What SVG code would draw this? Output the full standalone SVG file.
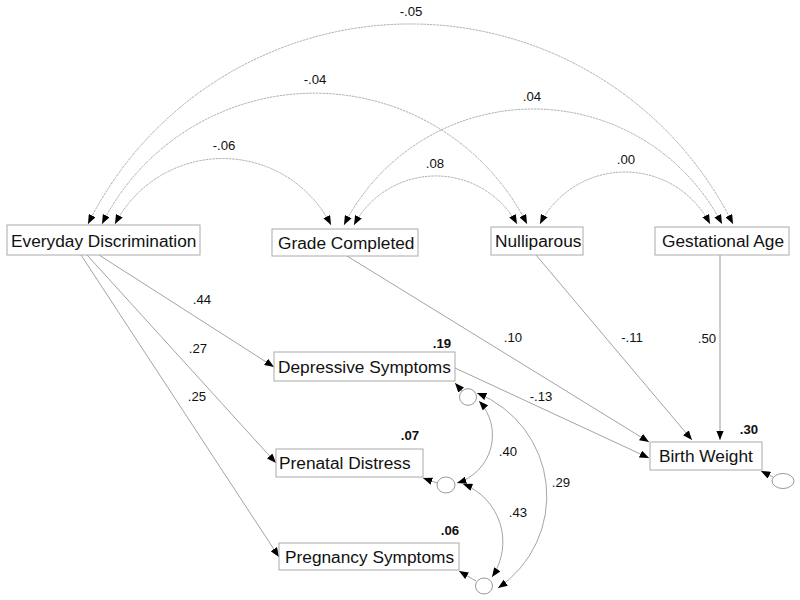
<svg xmlns="http://www.w3.org/2000/svg" width="800" height="600" viewBox="0 0 800 600">
<defs>
<marker id="ah" viewBox="0 0 10 8" markerWidth="9.5" markerHeight="7.5" refX="10" refY="4" orient="auto-start-reverse" markerUnits="userSpaceOnUse">
<path d="M0,0 L10,4 L0,8 z" fill="#000"/>
</marker>
<style>
.box{fill:#fff;stroke:#aaa;stroke-width:1}
.lbl{font-family:"Liberation Sans",Arial,sans-serif;font-size:17.3px;fill:#111}
.num{font-family:"Liberation Sans",Arial,sans-serif;font-size:13.2px;fill:#111;text-anchor:middle}
.r2{font-family:"Liberation Sans",Arial,sans-serif;font-size:13.2px;font-weight:bold;fill:#111;text-anchor:middle}
.path{fill:none;stroke:#999;stroke-width:0.9;marker-end:url(#ah)}
.cov{fill:none;stroke:#999;stroke-width:0.8;stroke-dasharray:2.5 0.8;marker-start:url(#ah);marker-end:url(#ah)}
.ecov{fill:none;stroke:#999;stroke-width:0.9;marker-start:url(#ah);marker-end:url(#ah)}
.err{fill:#fff;stroke:#999;stroke-width:1}
</style>
</defs>
<rect width="800" height="600" fill="#fff"/>
<g id="connectors">
<path class="cov" d="M88,224 A360,360 0 0 1 733,224"/>
<path class="cov" d="M102,224 A238,238 0 0 1 527,224"/>
<path class="cov" d="M115,224 A121.4,121.4 0 0 1 331,225"/>
<path class="cov" d="M344,225 A212.4,212.4 0 0 1 722,224"/>
<path class="cov" d="M354,225 A92.7,92.7 0 0 1 517,224"/>
<path class="cov" d="M540,224 A95.5,95.5 0 0 1 710,224"/>
<path class="path" d="M99,255 L274,367"/>
<path class="path" d="M87,255 L276,463"/>
<path class="path" d="M81,255 L279,557"/>
<path class="path" d="M347,256 L649,442"/>
<path class="path" d="M455,368 L649,458"/>
<path class="path" d="M536,255 L692,440"/>
<path class="path" d="M720,255 L720,440" style="stroke:#bbb;stroke-width:1.5"/>
<path class="path" d="M462,391 L455,383"/>
<path class="path" d="M437,483 L423,478"/>
<path class="path" d="M476,581 L459,571"/>
<path class="path" d="M773,477 L761,471"/>
<path class="ecov" d="M479,401 A50,50 0 0 1 457,483"/>
<path class="ecov" d="M463,484 A62,62 0 0 1 492,577"/>
<path class="ecov" d="M477,393 A111,111 0 0 1 498,588"/>
<text class="num" x="411" y="16">-.05</text>
<text class="num" x="315" y="84">-.04</text>
<text class="num" x="224" y="150">-.06</text>
<text class="num" x="532" y="101">.04</text>
<text class="num" x="435" y="168">.08</text>
<text class="num" x="626" y="164">.00</text>
<text class="num" x="202" y="304">.44</text>
<text class="num" x="198" y="353">.27</text>
<text class="num" x="197" y="401">.25</text>
<text class="num" x="513" y="342">.10</text>
<text class="num" x="632" y="342">-.11</text>
<text class="num" x="707" y="343">.50</text>
<text class="num" x="541" y="401">-.13</text>
<text class="num" x="508" y="456">.40</text>
<text class="num" x="518" y="517">.43</text>
<text class="num" x="561" y="487">.29</text>
</g>
<g id="everyday_discrimination"><rect class="box" x="7" y="225" width="193" height="30"/><text class="lbl" x="11" y="247">Everyday Discrimination</text></g>
<g id="grade_completed"><rect class="box" x="272" y="229" width="146" height="27"/><text class="lbl" x="278" y="249">Grade Completed</text></g>
<g id="nulliparous"><rect class="box" x="491" y="227" width="92" height="28"/><text class="lbl" x="495" y="247">Nulliparous</text></g>
<g id="gestational_age"><rect class="box" x="655" y="227" width="134" height="28"/><text class="lbl" x="662" y="247">Gestational Age</text></g>
<g id="depressive_symptoms"><rect class="box" x="274" y="352" width="181" height="29"/><text class="lbl" x="278" y="373">Depressive Symptoms</text><text class="r2" x="442" y="348">.19</text></g>
<g id="prenatal_distress"><rect class="box" x="276" y="449" width="147" height="28"/><text class="lbl" x="279" y="469">Prenatal Distress</text><text class="r2" x="410" y="440">.07</text></g>
<g id="pregnancy_symptoms"><rect class="box" x="279" y="543" width="180" height="27"/><text class="lbl" x="285" y="563">Pregnancy Symptoms</text><text class="r2" x="450" y="535">.06</text></g>
<g id="birth_weight"><rect class="box" x="650" y="442" width="112" height="28"/><text class="lbl" x="659" y="462">Birth Weight</text><text class="r2" x="749" y="434">.30</text></g>
<g id="e1"><ellipse class="err" cx="468" cy="397" rx="8.5" ry="8.3"/></g>
<g id="e2"><ellipse class="err" cx="446" cy="485" rx="9" ry="8"/></g>
<g id="e3"><ellipse class="err" cx="484" cy="586" rx="8.5" ry="8"/></g>
<g id="e4"><ellipse class="err" cx="783" cy="481" rx="11" ry="7.5"/></g>
</svg>
